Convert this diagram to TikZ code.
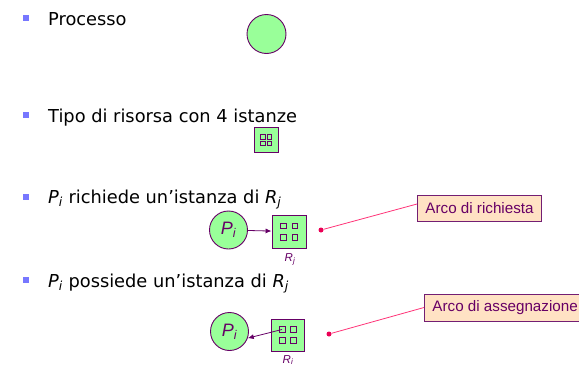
\documentclass[tikz,border=0pt]{standalone}
\usepackage{fontspec}
\setmainfont{DejaVu Sans}
\newfontfamily\arialf{Liberation Sans}
\usetikzlibrary{arrows.meta}
\definecolor{pgreen}{RGB}{153,255,153}
\definecolor{ppurple}{RGB}{102,0,102}
\definecolor{pbullet}{RGB}{119,119,255}
\definecolor{pdot}{RGB}{235,0,85}
\definecolor{pline}{RGB}{255,51,119}
\definecolor{ppeach}{RGB}{255,226,196}
\definecolor{pboxborder}{RGB}{115,30,115}
\begin{document}
\begin{tikzpicture}[x=1pt,y=-1pt,
  bulletsq/.style={fill=pbullet,minimum size=6pt,inner sep=0pt},
  itemtext/.style={anchor=base west,inner sep=0pt,font=\fontsize{17.8}{20}\selectfont},
  proc/.style={circle,draw=ppurple,line width=0.9pt,fill=pgreen,minimum size=#1,inner sep=0pt,
    font=\arialf\itshape\fontsize{18}{20}\selectfont,text=ppurple},
  innersq/.style={draw=ppurple,line width=0.6pt},
  resbox/.style n args={4}{draw=ppurple,line width=0.9pt,fill=pgreen,minimum width=#1,minimum height=#2,inner sep=0pt,
    path picture={\begin{scope}[shift={(path picture bounding box.center)}]
      \foreach \sx in {-1,1}{\foreach \sy in {-1,1}{
        \draw[innersq] (\sx*#3-#4/2,\sy*#3-#4/2) rectangle ++(#4,#4);}}
      \end{scope}}},
  reslabel/.style={inner sep=0pt,font=\arialf\itshape\fontsize{11.5}{13}\selectfont,text=ppurple},
  arr/.style={draw=ppurple,line width=0.8pt,-{Latex[length=6pt,width=5pt]}},
  reddot/.style={circle,fill=pdot,minimum size=5pt,inner sep=0pt},
  callline/.style={draw=pline,line width=0.8pt},
  callbox/.style={draw=pboxborder,fill=ppeach,line width=0.9pt,anchor=west,
    font=\arialf\fontsize{15.2}{18}\selectfont,text=ppurple,inner xsep=8pt,inner ysep=0pt}
]
\useasboundingbox (0,0) rectangle (579,367);
% bullets
\node[bulletsq] (b1) at (26,17.5) {};
\node[bulletsq] (b2) at (26,115) {};
\node[bulletsq] (b3) at (26,196.7) {};
\node[bulletsq] (b4) at (26,280) {};
% item texts
\node[itemtext] (t1) at (48,25) {Processo};
\node[itemtext] (t2) at (48,122) {Tipo di risorsa con 4 istanze};
\node[itemtext] (t3) at (48,203) {\textit{P}\textsubscript{\textit{i}} richiede un'istanza di \textit{R}\textsubscript{\textit{j}}};
\node[itemtext] (t4) at (48,287) {\textit{P}\textsubscript{\textit{i}} possiede un'istanza di \textit{R}\textsubscript{\textit{j}}};
% process
\node[proc=39pt] (p0) at (266.5,34) {};
% resource type
\node[resbox={24pt}{25pt}{3.4}{4.6}] (r0) at (266,140) {};
% request
\node[proc=38pt] (pi1) at (228.5,230) {\textit{P}\textsubscript{\textit{i}}};
\node[resbox={34pt}{33pt}{5.6}{5.6}] (rj1) at (289,231.5) {};
\node[reslabel] (lj1) at (290,259) {\textit{R}\textsubscript{\textit{j}}};
\draw[arr] (pi1) -- (rj1);
% assignment
\node[proc=38pt] (pi2) at (229.5,331.5) {\textit{P}\textsubscript{\textit{i}}};
\node[resbox={33pt}{32pt}{5.5}{5.6}] (rj2) at (287.5,335) {};
\node[reslabel] (lj2) at (288,360) {\textit{R}\textsubscript{\textit{i}}};
\coordinate (a2) at (282,329.5);
\draw[arr] (a2) -- (pi2.-20);
% callouts
\node[reddot] (d1) at (321,230) {};
\node[callbox,minimum height=26pt] (c1) at (417,208) {Arco di richiesta};
\draw[callline] (d1) -- ([yshift=4pt]c1.west);
\node[reddot] (d2) at (329,334) {};
\node[callbox,minimum height=27pt] (c2) at (424,307.5) {Arco di assegnazione};
\draw[callline] (d2) -- (c2.west);
\end{tikzpicture}
\end{document}
